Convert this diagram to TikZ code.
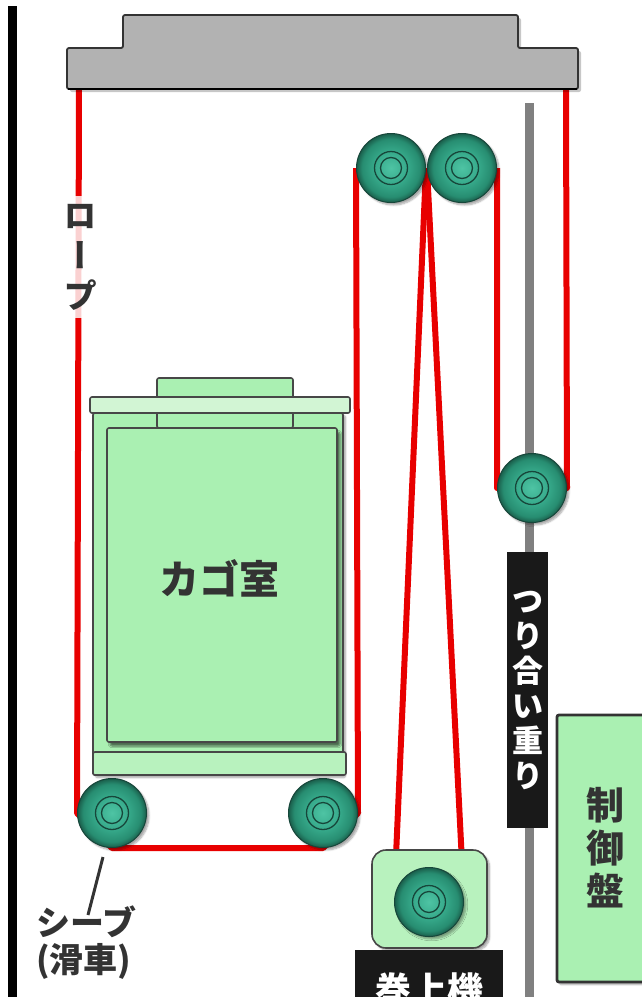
\documentclass[tikz,border=0pt]{standalone}
\usepackage{fontspec}
\newfontfamily\jp{Noto Sans CJK JP}
\newfontfamily\jpv[RawFeature={+vert}]{Noto Sans CJK JP}
\usetikzlibrary{shadows.blur}

\definecolor{ropered}{HTML}{E80000}
\definecolor{beamgray}{HTML}{B2B2B2}
\definecolor{framegray}{HTML}{9A9A9A}
\definecolor{polegray}{HTML}{808080}
\definecolor{carfill}{HTML}{AAF0B2}
\definecolor{barfill}{HTML}{D2F5D4}
\definecolor{basefill}{HTML}{B8F2BE}
\definecolor{edge}{HTML}{474747}
\definecolor{inkdark}{HTML}{333333}
\definecolor{pulA}{HTML}{4EC4A4}
\definecolor{pulB}{HTML}{36A98A}
\definecolor{pulC}{HTML}{278D71}
\definecolor{pulD}{HTML}{1A5E4B}
\definecolor{pulRing}{HTML}{17463A}

\pgfdeclareradialshading{pulleyshade}{\pgfpoint{0bp}{0bp}}%
  {color(0bp)=(pulA); color(12bp)=(pulB); color(21bp)=(pulC); color(25bp)=(pulD); color(50bp)=(pulD)}

\pgfdeclarelayer{bg}
\pgfdeclarelayer{ropes}
\pgfsetlayers{bg,ropes,main}

\tikzset{
  softshadow/.style={blur shadow={shadow xshift=2.5pt, shadow yshift=-2.5pt, shadow blur steps=6, shadow opacity=35}},
  pulley/.style={circle, minimum size=69pt, inner sep=0pt, shade, shading=pulleyshade,
    draw=pulRing, line width=1pt, softshadow,
    path picture={
      \draw[pulRing, line width=1.3pt] (path picture bounding box.center) circle (16.5pt);
      \draw[pulRing, line width=1.3pt] (path picture bounding box.center) circle (10.5pt);
    }},
  rope/.style={draw=ropered, line width=6pt},
  greenpart/.style={fill=carfill, draw=edge, line width=1.6pt, rounded corners=2pt},
  jptext/.style={font=\jp\bfseries, text=inkdark, inner sep=0pt, align=center},
  whitetext/.style={font=\jp\bfseries, text=white, inner sep=0pt, align=center},
}

\begin{document}
\begin{tikzpicture}[x=1pt, y=-1pt]
\useasboundingbox (0,0) rectangle (641,997);

\begin{pgfonlayer}{bg}
  \fill[white] (0,0) rectangle (641,997);
  % machine-room floor outline
  \draw[framegray, line width=3pt, rounded corners=6pt] (42,0) -- (42,107) -- (630,107) -- (630,0);
\end{pgfonlayer}

% shaft wall on the left; the tiny first shadow inside it sets up the blur machinery
\fill[black] (8,6) rectangle (17,997);
\fill[black, softshadow] (9,500) rectangle (11,502);

% overhead beam with a soft shadow underneath
\fill[black, opacity=0.22, rounded corners=2pt]
  (70,92) -- (70,51) -- (126,51) -- (126,18) -- (521,18) -- (521,51) -- (581,51) -- (581,92) -- cycle;
\draw[fill=beamgray, draw=black!80, line width=1.8pt, rounded corners=2pt]
  (67,89) -- (67,48) -- (123,48) -- (123,15) -- (518,15) -- (518,48) -- (578,48) -- (578,89) -- cycle;
\draw[black, line width=2.6pt] (68,89) -- (577,89);
\coordinate (ropeL) at (79,89);
\coordinate (ropeR) at (566,89);

% pulleys
\node[pulley] (pTL) at (391,168) {};
\node[pulley] (pTR) at (462,168) {};
\node[pulley] (pCW) at (532,488) {};
\node[pulley] (pBL) at (112,813) {};
\node[pulley] (pBR) at (323,813) {};

% counterweight
\node[fill=black!90, minimum width=41pt, minimum height=276pt, inner sep=0pt,
      whitetext, font=\jp\bfseries\fontsize{31}{35}\selectfont] (cw) at (527.5,690)
  {つ\\り\\合\\い\\重\\り};

% hoist
\node[fill=basefill, draw=edge, line width=1.6pt, rounded corners=14pt,
      minimum width=115pt, minimum height=98pt, softshadow] (hoist) at (429.5,899) {};
\node[pulley] (pH) at (429,902) {};
\node[fill=black!90, minimum width=148pt, minimum height=50pt, inner sep=0pt] (hoistbase) at (429,975) {};
\node[whitetext, font=\jp\bfseries\fontsize{36}{40}\selectfont, anchor=north] (hoistlabel) at (429,973) {巻上機};

% control panel
\node[fill=carfill, draw=inkdark, line width=2.8pt, rounded corners=2pt,
      minimum width=96pt, minimum height=267pt, softshadow] (ctrl) at (605,848.5) {};
\node[jptext, font=\jp\bfseries\fontsize{38}{43}\selectfont] (ctrllabel) at (605,848) {制\\御\\盤};

% car
\draw[greenpart, softshadow] (93,413) rectangle (343,775);
\draw[greenpart] (157,378) rectangle (293,428);
\draw[greenpart, fill=barfill] (90,397) rectangle (350,413);
\draw[greenpart, fill=basefill] (93,752) rectangle (346,775);
\draw[greenpart, blur shadow={shadow xshift=3pt, shadow yshift=-4pt, shadow blur steps=5, shadow opacity=55}]
  (107,428) rectangle (337,742);
\node[jptext, font=\jp\bfseries\fontsize{40}{44}\selectfont] (carlabel) at (219,578) {カゴ室};

% rope label on the left rope
\node[fill=white, fill opacity=0.82, minimum width=44pt, minimum height=122pt, inner sep=0pt] (ropepatch) at (80,257) {};
\node[jptext, font=\jpv\bfseries\fontsize{34}{40}\selectfont] (ropelabel) at (80,257) {ロ\\ー\\プ};

% sheave label
\coordinate (leadtop) at (103,857);
\coordinate (leadbot) at (88,915);
\draw[inkdark, line width=3pt] (leadtop) -- (leadbot);
\node[jptext, font=\jp\bfseries\fontsize{34}{37}\selectfont, align=left, anchor=west] (sheavelabel) at (36,943) {シーブ\\(滑車)};

\begin{pgfonlayer}{ropes}
  % counterweight guide pole
  \fill[polegray] (524.5,103) rectangle (533.5,997);
  % car side of the rope
  \draw[rope, line join=round] (ropeL) -- (pBL.west) -- (pBL.south) -- (pBR.south) -- (pBR.east) -- (pTL.west);
  % ropes down to the hoist
  \draw[rope] (pTL.east) -- (pH.west);
  \draw[rope] (pTR.west) -- (pH.east);
  % counterweight side of the rope
  \draw[rope, line join=round] (pTR.east) -- (pCW.west) -- (pCW.east) -- (ropeR);
\end{pgfonlayer}
\end{tikzpicture}
\end{document}
